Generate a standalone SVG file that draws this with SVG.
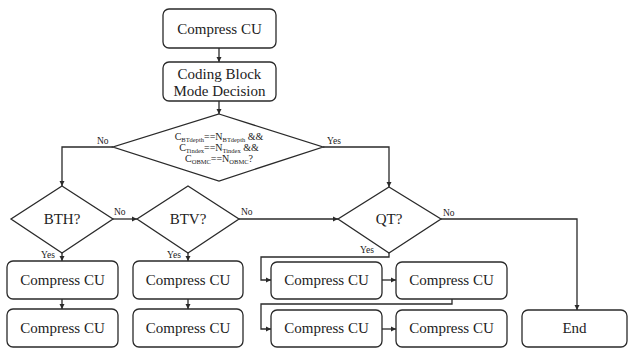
<svg xmlns="http://www.w3.org/2000/svg" width="629" height="349" viewBox="0 0 629 349">
<style>
.box{fill:#fff;stroke:#2a2a2a;stroke-width:1.3}
.t{font-family:"Liberation Serif","Times New Roman",serif;font-size:15px;fill:#222;text-anchor:middle}
.d{font-family:"Liberation Serif","Times New Roman",serif;font-size:10px;fill:#222;text-anchor:middle}
.sub{font-size:6.5px}
.l{font-family:"Liberation Serif","Times New Roman",serif;font-size:9.5px;fill:#222}
.c{fill:none;stroke:#2a2a2a;stroke-width:1.3}
</style>
<defs>
<marker id="a" markerUnits="userSpaceOnUse" markerWidth="6" markerHeight="6" refX="5" refY="3" orient="auto">
<path d="M0,0.5 L5,3 L0,5.5 Z" fill="#2a2a2a"/>
</marker>
</defs>
<rect width="629" height="349" fill="#fff"/>
<g id="connectors">
<path class="c" d="M219,48 V62" marker-end="url(#a)"/>
<path class="c" d="M219,101 V114" marker-end="url(#a)"/>
<path class="c" d="M113,147 H62 V186" marker-end="url(#a)"/>
<path class="c" d="M323,147 H389 V187" marker-end="url(#a)"/>
<path class="c" d="M113,219 H137" marker-end="url(#a)"/>
<path class="c" d="M239,219 H338" marker-end="url(#a)"/>
<path class="c" d="M441,219 H577 V310" marker-end="url(#a)"/>
<path class="c" d="M62,253 V261" marker-end="url(#a)"/>
<path class="c" d="M188,253 V261" marker-end="url(#a)"/>
<path class="c" d="M62,299 V309" marker-end="url(#a)"/>
<path class="c" d="M188,299 V309" marker-end="url(#a)"/>
<path class="c" d="M389,253 V257 H261 V280 H271" marker-end="url(#a)"/>
<path class="c" d="M382,280 H396" marker-end="url(#a)"/>
<path class="c" d="M452,299 V304 H261 V329 H271" marker-end="url(#a)"/>
<path class="c" d="M382,329 H396" marker-end="url(#a)"/>
<text class="l" x="97" y="144">No</text>
<text class="l" x="327" y="144">Yes</text>
<text class="l" x="114" y="215">No</text>
<text class="l" x="241" y="215">No</text>
<text class="l" x="41" y="258">Yes</text>
<text class="l" x="167" y="258">Yes</text>
<text class="l" x="360" y="253">Yes</text>
<text class="l" x="443" y="216">No</text>
</g>
<g id="start"><rect class="box" x="163" y="9" width="113" height="39" rx="6"/><text class="t" x="219.5" y="34">Compress CU</text></g>
<g id="mode"><rect class="box" x="163" y="62" width="113" height="39" rx="6"/><text class="t" x="219.5" y="79">Coding Block</text><text class="t" x="219.5" y="96">Mode Decision</text></g>
<g id="cond"><polygon class="box" points="219,114 323,147 219,181 113,147"/>
<text class="d" x="219" y="140">C<tspan class="sub" dy="2">BTdepth</tspan><tspan dy="-2">==N</tspan><tspan class="sub" dy="2">BTdepth</tspan><tspan dy="-2"> &amp;&amp;</tspan></text>
<text class="d" x="219" y="151">C<tspan class="sub" dy="2">Tindex</tspan><tspan dy="-2">==N</tspan><tspan class="sub" dy="2">Tindex</tspan><tspan dy="-2"> &amp;&amp;</tspan></text>
<text class="d" x="219" y="162">C<tspan class="sub" dy="2">OBMC</tspan><tspan dy="-2">==N</tspan><tspan class="sub" dy="2">OBMC</tspan><tspan dy="-2">?</tspan></text>
</g>
<g id="bth"><polygon class="box" points="62,186 113,219 62,253 11,219"/><text class="t" x="62" y="224">BTH?</text></g>
<g id="btv"><polygon class="box" points="188,186 239,219 188,253 137,219"/><text class="t" x="188" y="224">BTV?</text></g>
<g id="qt"><polygon class="box" points="389,187 441,219 389,253 338,219"/><text class="t" x="389" y="224">QT?</text></g>
<g id="bth1"><rect class="box" x="7" y="261" width="111" height="38" rx="6"/><text class="t" x="62.5" y="285">Compress CU</text></g>
<g id="bth2"><rect class="box" x="7" y="309" width="111" height="38" rx="6"/><text class="t" x="62.5" y="333">Compress CU</text></g>
<g id="btv1"><rect class="box" x="133" y="261" width="110" height="38" rx="6"/><text class="t" x="188" y="285">Compress CU</text></g>
<g id="btv2"><rect class="box" x="133" y="309" width="110" height="38" rx="6"/><text class="t" x="188" y="333">Compress CU</text></g>
<g id="qt1"><rect class="box" x="271" y="262" width="111" height="37" rx="6"/><text class="t" x="326.5" y="285">Compress CU</text></g>
<g id="qt2"><rect class="box" x="396" y="262" width="111" height="37" rx="6"/><text class="t" x="451.5" y="285">Compress CU</text></g>
<g id="qt3"><rect class="box" x="271" y="310" width="111" height="37" rx="6"/><text class="t" x="326.5" y="333">Compress CU</text></g>
<g id="qt4"><rect class="box" x="396" y="310" width="111" height="37" rx="6"/><text class="t" x="451.5" y="333">Compress CU</text></g>
<g id="end"><rect class="box" x="522" y="310" width="105" height="37" rx="6"/><text class="t" x="574.5" y="333">End</text></g>
</svg>
